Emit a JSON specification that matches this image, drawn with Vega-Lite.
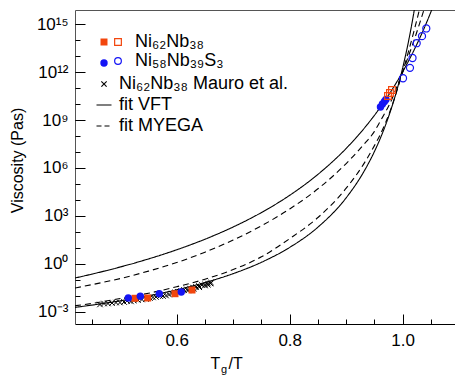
{
  "$schema": "https://vega.github.io/schema/vega-lite/v6.json",
  "width": 380,
  "height": 314,
  "autosize": {"type": "none"},
  "padding": {"left": 75, "top": 10, "right": 0, "bottom": 52},
  "config": {
    "view": {"stroke": null},
    "font": "Liberation Sans",
    "axis": {"grid": false, "labelFont": "Liberation Sans", "titleFont": "Liberation Sans", "labelColor": "black", "titleColor": "black", "tickColor": "black", "domainColor": "black", "titleFontWeight": "normal", "labelOverlap": false, "labelFlush": false},
    "legend": {"labelFont": "Liberation Sans", "labelColor": "black", "padding": 0, "labelLimit": 400}
  },
  "datasets": {
    "curves": [
      {"x": 0.42, "eta": 0.133, "c": "VFT1", "fit": "VFT"},
      {"x": 0.45, "eta": 0.233, "c": "VFT1", "fit": "VFT"},
      {"x": 0.5, "eta": 0.649, "c": "VFT1", "fit": "VFT"},
      {"x": 0.55, "eta": 2.07, "c": "VFT1", "fit": "VFT"},
      {"x": 0.6, "eta": 7.74, "c": "VFT1", "fit": "VFT"},
      {"x": 0.65, "eta": 35.3, "c": "VFT1", "fit": "VFT"},
      {"x": 0.7, "eta": 206.5, "c": "VFT1", "fit": "VFT"},
      {"x": 0.75, "eta": 1648, "c": "VFT1", "fit": "VFT"},
      {"x": 0.8, "eta": 19680, "c": "VFT1", "fit": "VFT"},
      {"x": 0.85, "eta": 4.0e5, "c": "VFT1", "fit": "VFT"},
      {"x": 0.9, "eta": 1.683e7, "c": "VFT1", "fit": "VFT"},
      {"x": 0.93, "eta": 2.518e8, "c": "VFT1", "fit": "VFT"},
      {"x": 0.94, "eta": 6.84e8, "c": "VFT1", "fit": "VFT"},
      {"x": 0.96, "eta": 5.96e9, "c": "VFT1", "fit": "VFT"},
      {"x": 0.97, "eta": 1.93e10, "c": "VFT1", "fit": "VFT"},
      {"x": 0.98, "eta": 6.73e10, "c": "VFT1", "fit": "VFT"},
      {"x": 0.99, "eta": 2.52e11, "c": "VFT1", "fit": "VFT"},
      {"x": 1.0, "eta": 1.03e12, "c": "VFT1", "fit": "VFT"},
      {"x": 1.01, "eta": 4.61e12, "c": "VFT1", "fit": "VFT"},
      {"x": 1.02, "eta": 2.29e13, "c": "VFT1", "fit": "VFT"},
      {"x": 1.03, "eta": 1.27e14, "c": "VFT1", "fit": "VFT"},
      {"x": 1.04, "eta": 7.94e14, "c": "VFT1", "fit": "VFT"},
      {"x": 1.05, "eta": 5.73e15, "c": "VFT1", "fit": "VFT"},
      {"x": 1.06, "eta": 4.79e16, "c": "VFT1", "fit": "VFT"},
      {"x": 0.42, "eta": 0.00195, "c": "VFT2", "fit": "VFT"},
      {"x": 0.45, "eta": 0.0027, "c": "VFT2", "fit": "VFT"},
      {"x": 0.5, "eta": 0.005, "c": "VFT2", "fit": "VFT"},
      {"x": 0.55, "eta": 0.0103, "c": "VFT2", "fit": "VFT"},
      {"x": 0.6, "eta": 0.0243, "c": "VFT2", "fit": "VFT"},
      {"x": 0.65, "eta": 0.069, "c": "VFT2", "fit": "VFT"},
      {"x": 0.7, "eta": 0.25, "c": "VFT2", "fit": "VFT"},
      {"x": 0.75, "eta": 1.28, "c": "VFT2", "fit": "VFT"},
      {"x": 0.8, "eta": 10.9, "c": "VFT2", "fit": "VFT"},
      {"x": 0.85, "eta": 201, "c": "VFT2", "fit": "VFT"},
      {"x": 0.9, "eta": 1.374e4, "c": "VFT2", "fit": "VFT"},
      {"x": 0.93, "eta": 4.94e5, "c": "VFT2", "fit": "VFT"},
      {"x": 0.95, "eta": 1.07e7, "c": "VFT2", "fit": "VFT"},
      {"x": 0.96, "eta": 6.6e7, "c": "VFT2", "fit": "VFT"},
      {"x": 0.97, "eta": 5.18e8, "c": "VFT2", "fit": "VFT"},
      {"x": 0.98, "eta": 5.38e9, "c": "VFT2", "fit": "VFT"},
      {"x": 0.99, "eta": 7.96e10, "c": "VFT2", "fit": "VFT"},
      {"x": 1.0, "eta": 1.82e12, "c": "VFT2", "fit": "VFT"},
      {"x": 1.01, "eta": 7.23e13, "c": "VFT2", "fit": "VFT"},
      {"x": 1.02, "eta": 5.85e15, "c": "VFT2", "fit": "VFT"},
      {"x": 1.03, "eta": 1.2e18, "c": "VFT2", "fit": "VFT"},
      {"x": 0.42, "eta": 0.0316, "c": "MY1", "fit": "MYEGA"},
      {"x": 0.45, "eta": 0.0513, "c": "MY1", "fit": "MYEGA"},
      {"x": 0.5, "eta": 0.123, "c": "MY1", "fit": "MYEGA"},
      {"x": 0.55, "eta": 0.359, "c": "MY1", "fit": "MYEGA"},
      {"x": 0.6, "eta": 1.23, "c": "MY1", "fit": "MYEGA"},
      {"x": 0.65, "eta": 5.47, "c": "MY1", "fit": "MYEGA"},
      {"x": 0.7, "eta": 31.6, "c": "MY1", "fit": "MYEGA"},
      {"x": 0.75, "eta": 244, "c": "MY1", "fit": "MYEGA"},
      {"x": 0.8, "eta": 2754, "c": "MY1", "fit": "MYEGA"},
      {"x": 0.85, "eta": 5.01e4, "c": "MY1", "fit": "MYEGA"},
      {"x": 0.9, "eta": 1.905e6, "c": "MY1", "fit": "MYEGA"},
      {"x": 0.93, "eta": 2.63e7, "c": "MY1", "fit": "MYEGA"},
      {"x": 0.95, "eta": 1.95e8, "c": "MY1", "fit": "MYEGA"},
      {"x": 0.96, "eta": 8.04e8, "c": "MY1", "fit": "MYEGA"},
      {"x": 0.98, "eta": 1.7e10, "c": "MY1", "fit": "MYEGA"},
      {"x": 0.99, "eta": 1.26e11, "c": "MY1", "fit": "MYEGA"},
      {"x": 1.0, "eta": 1e12, "c": "MY1", "fit": "MYEGA"},
      {"x": 1.01, "eta": 9.33e12, "c": "MY1", "fit": "MYEGA"},
      {"x": 1.02, "eta": 9.12e13, "c": "MY1", "fit": "MYEGA"},
      {"x": 1.03, "eta": 1.1e15, "c": "MY1", "fit": "MYEGA"},
      {"x": 1.04, "eta": 1.41e16, "c": "MY1", "fit": "MYEGA"},
      {"x": 0.42, "eta": 0.00245, "c": "MY2", "fit": "MYEGA"},
      {"x": 0.45, "eta": 0.0034, "c": "MY2", "fit": "MYEGA"},
      {"x": 0.5, "eta": 0.00706, "c": "MY2", "fit": "MYEGA"},
      {"x": 0.55, "eta": 0.0148, "c": "MY2", "fit": "MYEGA"},
      {"x": 0.6, "eta": 0.038, "c": "MY2", "fit": "MYEGA"},
      {"x": 0.65, "eta": 0.112, "c": "MY2", "fit": "MYEGA"},
      {"x": 0.7, "eta": 0.447, "c": "MY2", "fit": "MYEGA"},
      {"x": 0.75, "eta": 2.82, "c": "MY2", "fit": "MYEGA"},
      {"x": 0.8, "eta": 38.5, "c": "MY2", "fit": "MYEGA"},
      {"x": 0.85, "eta": 802, "c": "MY2", "fit": "MYEGA"},
      {"x": 0.9, "eta": 5.47e4, "c": "MY2", "fit": "MYEGA"},
      {"x": 0.93, "eta": 1.56e6, "c": "MY2", "fit": "MYEGA"},
      {"x": 0.95, "eta": 2.5e7, "c": "MY2", "fit": "MYEGA"},
      {"x": 0.96, "eta": 1.17e8, "c": "MY2", "fit": "MYEGA"},
      {"x": 0.98, "eta": 6.03e9, "c": "MY2", "fit": "MYEGA"},
      {"x": 0.99, "eta": 7.1e10, "c": "MY2", "fit": "MYEGA"},
      {"x": 1.0, "eta": 1e12, "c": "MY2", "fit": "MYEGA"},
      {"x": 1.01, "eta": 1.78e13, "c": "MY2", "fit": "MYEGA"},
      {"x": 1.02, "eta": 3.55e14, "c": "MY2", "fit": "MYEGA"},
      {"x": 1.03, "eta": 8.9e15, "c": "MY2", "fit": "MYEGA"},
      {"x": 1.04, "eta": 2.5e17, "c": "MY2", "fit": "MYEGA"}
    ],
    "mauro": [
      {"x": 0.4642, "eta": 0.00295, "series": "Mauro"},
      {"x": 0.4713, "eta": 0.00339, "series": "Mauro"},
      {"x": 0.4784, "eta": 0.00339, "series": "Mauro"},
      {"x": 0.4855, "eta": 0.00363, "series": "Mauro"},
      {"x": 0.4926, "eta": 0.00389, "series": "Mauro"},
      {"x": 0.4996, "eta": 0.00389, "series": "Mauro"},
      {"x": 0.5067, "eta": 0.00422, "series": "Mauro"},
      {"x": 0.512, "eta": 0.0049, "series": "Mauro"},
      {"x": 0.5191, "eta": 0.00457, "series": "Mauro"},
      {"x": 0.5244, "eta": 0.00525, "series": "Mauro"},
      {"x": 0.5315, "eta": 0.00562, "series": "Mauro"},
      {"x": 0.5386, "eta": 0.00603, "series": "Mauro"},
      {"x": 0.5457, "eta": 0.00646, "series": "Mauro"},
      {"x": 0.5527, "eta": 0.0075, "series": "Mauro"},
      {"x": 0.5581, "eta": 0.00813, "series": "Mauro"},
      {"x": 0.5634, "eta": 0.00871, "series": "Mauro"},
      {"x": 0.5704, "eta": 0.01, "series": "Mauro"},
      {"x": 0.5758, "eta": 0.01, "series": "Mauro"},
      {"x": 0.5811, "eta": 0.0107, "series": "Mauro"},
      {"x": 0.5864, "eta": 0.0123, "series": "Mauro"},
      {"x": 0.5917, "eta": 0.0145, "series": "Mauro"},
      {"x": 0.597, "eta": 0.0166, "series": "Mauro"},
      {"x": 0.6023, "eta": 0.0178, "series": "Mauro"},
      {"x": 0.6076, "eta": 0.0204, "series": "Mauro"},
      {"x": 0.6129, "eta": 0.0237, "series": "Mauro"},
      {"x": 0.6182, "eta": 0.0257, "series": "Mauro"},
      {"x": 0.62, "eta": 0.022, "series": "Mauro"},
      {"x": 0.6235, "eta": 0.0295, "series": "Mauro"},
      {"x": 0.6288, "eta": 0.0339, "series": "Mauro"},
      {"x": 0.63, "eta": 0.028, "series": "Mauro"},
      {"x": 0.6342, "eta": 0.0363, "series": "Mauro"},
      {"x": 0.6395, "eta": 0.0422, "series": "Mauro"},
      {"x": 0.64, "eta": 0.035, "series": "Mauro"},
      {"x": 0.6448, "eta": 0.049, "series": "Mauro"},
      {"x": 0.65, "eta": 0.045, "series": "Mauro"},
      {"x": 0.6501, "eta": 0.0525, "series": "Mauro"},
      {"x": 0.6554, "eta": 0.0603, "series": "Mauro"},
      {"x": 0.655, "eta": 0.05, "series": "Mauro"},
      {"x": 0.6607, "eta": 0.0692, "series": "Mauro"},
      {"x": 0.66, "eta": 0.06, "series": "Mauro"}
    ],
    "redFilled": [
      {"x": 0.5262, "eta": 0.0072, "series": "Ni62Nb38"},
      {"x": 0.5487, "eta": 0.0075, "series": "Ni62Nb38"},
      {"x": 0.597, "eta": 0.0139, "series": "Ni62Nb38"},
      {"x": 0.6271, "eta": 0.0237, "series": "Ni62Nb38"}
    ],
    "blueFilled": [
      {"x": 0.5143, "eta": 0.0075, "series": "Ni58Nb39S3"},
      {"x": 0.5356, "eta": 0.0096, "series": "Ni58Nb39S3"},
      {"x": 0.5692, "eta": 0.0139, "series": "Ni58Nb39S3"},
      {"x": 0.6081, "eta": 0.0178, "series": "Ni58Nb39S3"},
      {"x": 0.9607, "eta": 6.46e9, "series": "Ni58Nb39S3"},
      {"x": 0.9642, "eta": 1e10, "series": "Ni58Nb39S3"},
      {"x": 0.9678, "eta": 1.43e10, "series": "Ni58Nb39S3"},
      {"x": 0.9704, "eta": 1.9e10, "series": "Ni58Nb39S3"}
    ],
    "redOpen": [
      {"x": 0.974, "eta": 3.16e10, "oseries": "Ni62Nb38"},
      {"x": 0.9775, "eta": 4.9e10, "oseries": "Ni62Nb38"},
      {"x": 0.981, "eta": 7.5e10, "oseries": "Ni62Nb38"}
    ],
    "blueOpen": [
      {"x": 1.0006, "eta": 4.07e11, "oseries": "Ni58Nb39S3"},
      {"x": 1.0129, "eta": 1.82e12, "oseries": "Ni58Nb39S3"},
      {"x": 1.0174, "eta": 7.5e12, "oseries": "Ni58Nb39S3"},
      {"x": 1.0248, "eta": 6.3e13, "oseries": "Ni58Nb39S3"},
      {"x": 1.0342, "eta": 1.74e14, "oseries": "Ni58Nb39S3"},
      {"x": 1.0418, "eta": 5.25e14, "oseries": "Ni58Nb39S3"}
    ]
  },
  "resolve": {"axis": {"x": "independent", "y": "independent"}},
  "layer": [
    {
      "data": {"name": "curves"},
      "mark": {"type": "line", "clip": true, "color": "black", "strokeWidth": 1.1, "interpolate": "monotone"},
      "encoding": {
        "x": {"field": "x", "type": "quantitative", "scale": {"domain": [0.42, 1.0926], "nice": false, "zero": false},
          "axis": {"orient": "bottom", "values": [0.6, 0.8, 1.0], "format": ".1f", "ticks": false, "domain": true, "labelFontSize": 17, "labelPadding": 8, "title": "T", "titleFontSize": 16, "titleX": 135, "titleY": 44, "titleAlign": "left", "titleBaseline": "alphabetic"}},
        "y": {"field": "eta", "type": "quantitative", "scale": {"type": "log", "domain": [0.0001778, 7.5e15], "nice": false},
          "axis": {"orient": "left", "values": [0.001, 1, 1000, 1000000, 1000000000, 1000000000000, 1000000000000000], "ticks": false, "domain": true, "domainColor": "#555", "labelFontSize": 17, "labelPadding": 7,
            "labelExpr": "datum.value > 1e14 ? '10¹⁵' : datum.value > 1e11 ? '10¹²' : datum.value > 1e8 ? '10⁹' : datum.value > 1e5 ? '10⁶' : datum.value > 100 ? '10³' : datum.value > 0.1 ? '10⁰' : '10⁻³'",
            "title": "Viscosity (Pas)", "titleFontSize": 16, "titleX": -58, "titleY": 150, "titleAngle": 270, "titleAlign": "center", "titleBaseline": "middle"}},
        "detail": {"field": "c", "type": "nominal"},
        "strokeDash": {"field": "fit", "type": "nominal", "scale": {"domain": ["VFT", "MYEGA"], "range": [[1, 0], [6, 4]]}, "legend": null}
      }
    },
    {
      "data": {"name": "mauro"},
      "mark": {"type": "point", "clip": true, "filled": false, "color": "black", "strokeWidth": 1, "size": 30, "opacity": 1},
      "encoding": {
        "x": {"field": "x", "type": "quantitative",
          "axis": {"orient": "bottom", "values": [0.6, 0.8, 1.0], "tickSize": -10, "labels": false, "domain": false, "title": "g", "titleFontSize": 11, "titleX": 145.5, "titleY": 48, "titleAlign": "left", "titleBaseline": "alphabetic"}},
        "y": {"field": "eta", "type": "quantitative",
          "axis": {"orient": "left", "values": [0.001, 1, 1000, 1000000, 1000000000, 1000000000000, 1000000000000000], "tickSize": -10, "labels": false, "domain": false, "title": null}},
        "shape": {"field": "series", "type": "nominal",
          "scale": {"domain": ["Ni62Nb38", "Ni58Nb39S3", "Mauro", "VFT", "MYEGA"], "range": ["square", "circle", "M-1,-1L1,1M1,-1L-1,1", "stroke", "stroke"]},
          "legend": {"orient": "none", "legendX": 20, "legendY": 23, "direction": "vertical", "title": null, "symbolSize": 225, "labelFontSize": 18, "labelOffset": 6, "rowPadding": 3,
            "labelExpr": "datum.value == 'Mauro' ? 'Ni₆₂Nb₃₈ Mauro et al.' : datum.value == 'VFT' ? 'fit VFT' : datum.value == 'MYEGA' ? 'fit MYEGA' : ' '",
            "encoding": {"symbols": {
              "shape": {"value": {"signal": "datum.value == 'Ni62Nb38' ? 'square' : datum.value == 'Ni58Nb39S3' ? 'circle' : datum.value == 'Mauro' ? 'M-1,-1L1,1M1,-1L-1,1' : 'stroke'"}},
              "size": {"value": {"signal": "datum.value == 'Ni62Nb38' ? 49 : datum.value == 'Ni58Nb39S3' ? 55 : datum.value == 'Mauro' ? 28 : 225"}},
              "fill": {"value": {"signal": "datum.value == 'Ni62Nb38' ? '#f2460d' : datum.value == 'Ni58Nb39S3' ? '#1414f5' : 'transparent'"}},
              "stroke": {"value": {"signal": "datum.value == 'Ni62Nb38' || datum.value == 'Ni58Nb39S3' ? 'transparent' : 'black'"}},
              "strokeDash": {"value": {"signal": "datum.value == 'MYEGA' ? [5, 3] : [1, 0]"}},
              "strokeWidth": {"value": 1.1},
              "opacity": {"value": 1}
            }}}
        }
      }
    },
    {
      "data": {"name": "redFilled"},
      "mark": {"type": "point", "clip": true, "filled": true, "color": "#f2460d", "size": 49, "opacity": 1},
      "encoding": {
        "x": {"field": "x", "type": "quantitative",
          "axis": {"orient": "bottom", "values": [0.45, 0.5, 0.55, 0.6, 0.65, 0.7, 0.75, 0.8, 0.85, 0.9, 0.95, 1.0, 1.05], "tickSize": -5, "labels": false, "domain": false, "title": "/T", "titleFontSize": 16, "titleX": 153, "titleY": 44, "titleAlign": "left", "titleBaseline": "alphabetic"}},
        "y": {"field": "eta", "type": "quantitative",
          "axis": {"orient": "left", "values": [0.001, 0.01, 0.1, 1, 10, 100, 1000, 10000, 100000, 1000000, 10000000, 100000000, 1000000000, 10000000000, 100000000000, 1000000000000, 10000000000000, 100000000000000, 1000000000000000], "tickSize": -5, "labels": false, "domain": false, "title": null}},
        "shape": {"field": "series", "type": "nominal"}
      }
    },
    {
      "data": {"name": "blueFilled"},
      "mark": {"type": "point", "clip": true, "filled": true, "color": "#1414f5", "size": 55, "opacity": 1},
      "encoding": {
        "x": {"field": "x", "type": "quantitative",
          "axis": {"orient": "top", "ticks": false, "labels": false, "domain": true, "domainColor": "#555", "title": null}},
        "y": {"field": "eta", "type": "quantitative", "axis": null},
        "shape": {"field": "series", "type": "nominal"}
      }
    },
    {
      "data": {"name": "redOpen"},
      "mark": {"type": "point", "clip": true, "shape": "square", "filled": false, "size": 45, "strokeWidth": 1.2, "opacity": 1},
      "encoding": {
        "x": {"field": "x", "type": "quantitative", "axis": null},
        "y": {"field": "eta", "type": "quantitative", "axis": null},
        "color": {"field": "oseries", "type": "nominal",
          "scale": {"domain": ["Ni62Nb38", "Ni58Nb39S3"], "range": ["#f2460d", "#1414f5"]},
          "legend": {"orient": "none", "legendX": 34, "legendY": 23, "direction": "vertical", "title": null, "symbolSize": 45, "labelFontSize": 18, "labelOffset": 8, "rowPadding": 1,
            "labelExpr": "datum.value == 'Ni62Nb38' ? 'Ni₆₂Nb₃₈' : 'Ni₅₈Nb₃₉S₃'",
            "encoding": {"symbols": {
              "shape": {"value": {"signal": "datum.value == 'Ni62Nb38' ? 'square' : 'circle'"}},
              "fill": {"value": "transparent"},
              "strokeWidth": {"value": 1.2},
              "opacity": {"value": 1}
            }}}
        }
      }
    },
    {
      "data": {"name": "blueOpen"},
      "mark": {"type": "point", "clip": true, "shape": "circle", "filled": false, "size": 50, "strokeWidth": 1.2, "opacity": 1},
      "encoding": {
        "x": {"field": "x", "type": "quantitative", "axis": null},
        "y": {"field": "eta", "type": "quantitative", "axis": null},
        "color": {"field": "oseries", "type": "nominal"}
      }
    }
  ]
}
